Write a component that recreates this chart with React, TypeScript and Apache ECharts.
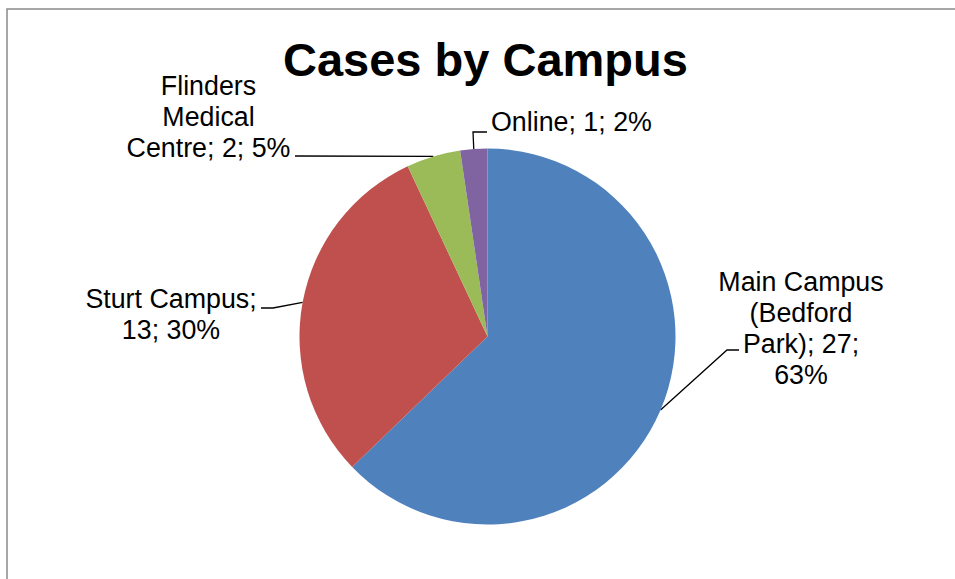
import React, { useEffect, useRef } from "react";
import * as echarts from "echarts";

const categories = ["Main Campus (Bedford Park)", "Sturt Campus", "Flinders Medical Centre", "Online"];
const values = [27, 13, 2, 1];
const colors = ["#4F81BD", "#C0504D", "#9BBB59", "#8064A2"];
const titleText = "Cases by Campus";

// label layout: anchor position, alignment, words per wrapped line, leader-line bend points
const labelLayouts = [
  { x: 801, y: 328.5, align: "center", wrap: [2, 1, 2, 1], bends: [[727, 350], [739, 350]] },
  { x: 171, y: 314, align: "center", wrap: [2, 2], bends: [[273, 308], [261, 308]] },
  { x: 208.5, y: 116.5, align: "center", wrap: [1, 1, 3], bends: [[295, 156]] },
  { x: 491, y: 122, align: "left", wrap: [4], bends: [[473, 132], [487, 132]] },
];

function wrapText(text: string, wrap: number[]) {
  const words = text.split(" ");
  const lines: string[] = [];
  let k = 0;
  for (const n of wrap) {
    lines.push(words.slice(k, k + n).join(" "));
    k += n;
  }
  if (k < words.length) lines.push(words.slice(k).join(" "));
  return lines.filter((l) => l.length > 0).join("\n");
}

export default function App() {
  const ref = useRef<HTMLDivElement>(null);
  useEffect(() => {
    if (!ref.current) return;
    const chart = echarts.init(ref.current, null, { renderer: "svg" });
    const font = "'Liberation Sans', Arial, sans-serif";
    chart.setOption({
      animation: false,
      backgroundColor: "#ffffff",
      title: {
        text: titleText,
        left: 278,
        top: 31,
        textStyle: { fontFamily: font, fontSize: 47, fontWeight: "bold", color: "#000000" },
      },
      graphic: [
        {
          type: "rect",
          shape: { x: 7, y: 9, width: 1100, height: 1100 },
          style: { fill: "none", stroke: "#8a8a8a", lineWidth: 1.5 },
          silent: true,
        },
      ],
      series: [
        {
          type: "pie",
          center: [487.5, 336.5],
          radius: 188,
          startAngle: 90,
          clockwise: true,
          avoidLabelOverlap: false,
          itemStyle: { borderWidth: 0 },
          emphasis: { disabled: true },
          label: {
            show: true,
            position: "outside",
            fontFamily: font,
            fontSize: 26.8,
            lineHeight: 31,
            color: "#000000",
            formatter: (p: any) =>
              wrapText(
                `${p.name}; ${p.value}; ${Math.round(p.percent)}%`,
                labelLayouts[p.dataIndex].wrap
              ),
          },
          labelLine: {
            show: true,
            lineStyle: { color: "#000000", width: 1.3 },
          },
          labelLayout: (params: any) => {
            const L = labelLayouts[params.dataIndex];
            const pts = params.labelLinePoints;
            const start = pts && pts[0] ? pts[0] : [0, 0];
            return {
              x: L.x,
              y: L.y,
              align: L.align,
              verticalAlign: "middle",
              hideOverlap: false,
              labelLinePoints: [start, ...L.bends],
            };
          },
          data: categories.map((name, i) => ({
            name,
            value: values[i],
            itemStyle: { color: colors[i] },
            label: { align: labelLayouts[i].align },
          })),
        },
      ],
    });
    return () => chart.dispose();
  }, []);
  return (
    <div
      ref={ref}
      style={{ position: "absolute", left: 0, top: 0, width: 955, height: 579 }}
    />
  );
}
